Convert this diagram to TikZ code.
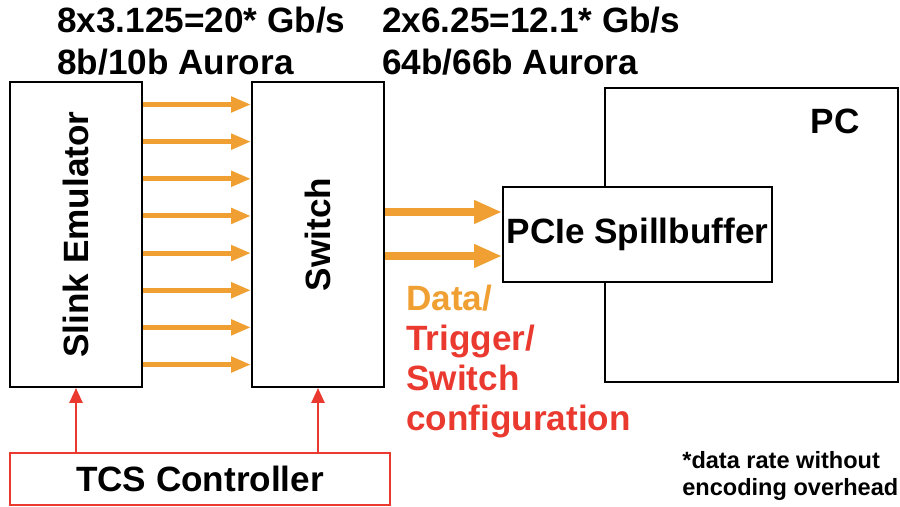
\documentclass[tikz,border=0pt]{standalone}
\usepackage{fontspec}
\setmainfont{Liberation Sans}
\usepackage{xcolor}
\usetikzlibrary{arrows.meta}
\definecolor{linkorange}{RGB}{240, 160, 50}
\definecolor{tcsred}{RGB}{234, 58, 48}

\begin{document}
\begin{tikzpicture}[
        font=\bfseries\fontsize{20}{23}\selectfont,
        box/.style={draw, line width=1.1pt, fill=white, inner sep=0pt},
        lane/.style={linkorange, line width=2.8pt, -{Triangle[length=0.4cm, width=0.3cm]}},
        fatlane/.style={linkorange, line width=4pt, -{Triangle[length=0.56cm, width=0.44cm]}},
        ctrl/.style={tcsred, line width=1.4pt, -{Triangle[length=0.3cm, width=0.26cm]}}
    ]
        \useasboundingbox (0,0) rectangle (18,-10.14);

        \node[box, minimum width=2.64cm, minimum height=6.1cm] (slink) at (1.52,-4.69) {\rotatebox{90}{Slink Emulator}};
        \node[box, minimum width=2.64cm, minimum height=6.1cm] (switch) at (6.36,-4.69) {\rotatebox{90}{Switch}};

        \node[box, minimum width=5.86cm, minimum height=5.88cm] (pc) at (15.03,-4.70) {};
        \node (pclabel) at (16.7,-2.42) {PC};
        \node[box, minimum width=5.38cm, minimum height=1.9cm] (spill) at (12.75,-4.69) {PCIe Spillbuffer};

        \node[draw=tcsred, line width=1.1pt, minimum width=7.6cm, minimum height=1.04cm] (tcs) at (4.0,-9.58) {TCS Controller};

        \node[anchor=north west, align=left, inner sep=0pt, font=\bfseries\fontsize{20}{24}\selectfont] (ratein) at (1.14,-0.13) {8x3.125=20* Gb/s\\8b/10b Aurora};
        \node[anchor=north west, align=left, inner sep=0pt, font=\bfseries\fontsize{20}{24}\selectfont] (rateout) at (7.64,-0.13) {2x6.25=12.1* Gb/s\\64b/66b Aurora};

        \node[anchor=north west, align=left, inner sep=0pt, font=\bfseries\fontsize{20}{22.8}\selectfont] (legend) at (8.12,-5.69)
            {\textcolor{linkorange}{Data/}\\\textcolor{tcsred}{Trigger/}\\\textcolor{tcsred}{Switch}\\\textcolor{tcsred}{configuration}};

        \node[anchor=north west, align=left, inner sep=0pt, font=\bfseries\fontsize{13.4}{15.4}\selectfont] (note) at (13.64,-9.02) {*data rate without\\encoding overhead};

        % eight links into the switch
        \foreach \i in {0,...,7}
            \draw[lane] ([yshift=2.6cm-\i*0.743cm]slink.east) -- ([yshift=2.6cm-\i*0.743cm]switch.west);

        \draw[fatlane] ([yshift=0.45cm]switch.east) -- ([yshift=0.45cm]spill.west);
        \draw[fatlane] ([yshift=-0.43cm]switch.east) -- ([yshift=-0.43cm]spill.west);

        \draw[ctrl] (tcs.north -| slink.south) -- (slink.south);
        \draw[ctrl] (tcs.north -| switch.south) -- (switch.south);
    \end{tikzpicture}
\end{document}
